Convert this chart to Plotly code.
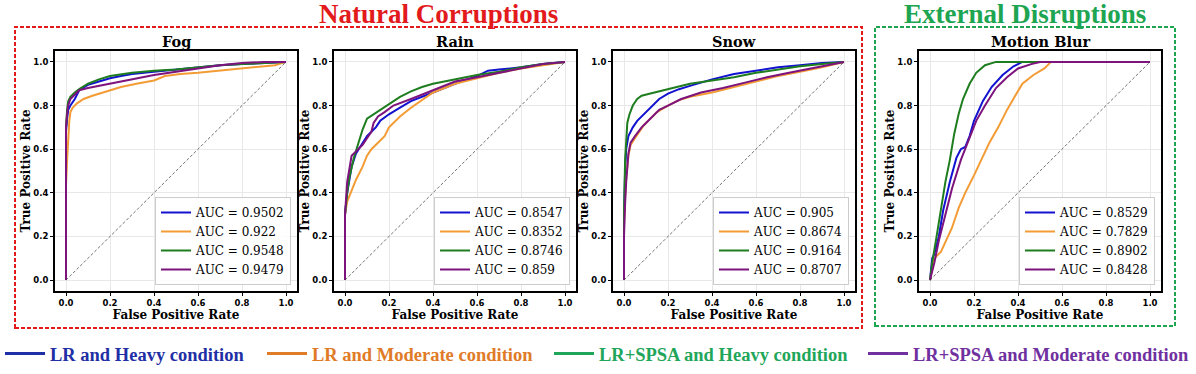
import plotly.graph_objects as go

W, H = 1196, 374

panels = ["Fog", "Rain", "Snow", "Motion Blur"]
series_names = [
    "LR and Heavy condition",
    "LR and Moderate condition",
    "LR+SPSA and Heavy condition",
    "LR+SPSA and Moderate condition",
]
curve_colors = ["#1212d0", "#f39c35", "#1e7d1e", "#7d137d"]
key_colors = ["#1f2fa5", "#e07b28", "#1fa65a", "#7030a0"]

# AUC labels per panel (series order: LR heavy, LR moderate, SPSA heavy, SPSA moderate)
auc_fog = ["0.9502", "0.922", "0.9548", "0.9479"]
auc_rain = ["0.8547", "0.8352", "0.8746", "0.859"]
auc_snow = ["0.905", "0.8674", "0.9164", "0.8707"]
auc_blur = ["0.8529", "0.7829", "0.8902", "0.8428"]

# ROC points
fog_fpr = [
    [0, 0, 0.005, 0.01, 0.02, 0.04, 0.06, 0.1, 0.15, 0.2, 0.25, 0.3, 0.4, 0.5, 0.6, 0.7, 0.8, 0.9, 1.0],
    [0, 0, 0.005, 0.01, 0.015, 0.02, 0.03, 0.05, 0.08, 0.12, 0.18, 0.25, 0.32, 0.4, 0.45, 0.52, 0.6, 0.7, 0.8, 0.9, 0.95, 1.0],
    [0, 0, 0.005, 0.01, 0.02, 0.04, 0.06, 0.1, 0.15, 0.2, 0.3, 0.4, 0.5, 0.6, 0.7, 0.8, 0.9, 1.0],
    [0, 0, 0.005, 0.01, 0.02, 0.04, 0.06, 0.1, 0.15, 0.2, 0.25, 0.3, 0.4, 0.5, 0.6, 0.7, 0.8, 0.9, 1.0],
]
fog_tpr = [
    [0, 0.68, 0.74, 0.78, 0.8, 0.83, 0.87, 0.895, 0.91, 0.925, 0.935, 0.945, 0.955, 0.965, 0.975, 0.985, 0.99, 0.995, 1.0],
    [0, 0.43, 0.55, 0.65, 0.73, 0.77, 0.79, 0.81, 0.83, 0.845, 0.865, 0.885, 0.9, 0.915, 0.935, 0.945, 0.95, 0.96, 0.97, 0.98, 0.985, 1.0],
    [0, 0.7, 0.78, 0.82, 0.84, 0.86, 0.875, 0.9, 0.92, 0.935, 0.95, 0.96, 0.965, 0.975, 0.985, 0.99, 0.995, 1.0],
    [0, 0.7, 0.76, 0.8, 0.83, 0.85, 0.87, 0.88, 0.89, 0.9, 0.91, 0.92, 0.94, 0.955, 0.97, 0.985, 0.995, 1.0, 1.0],
]

rain_fpr = [
    [0, 0, 0.01, 0.02, 0.03, 0.05, 0.08, 0.1, 0.12, 0.14, 0.16, 0.2, 0.25, 0.3, 0.4, 0.5, 0.6, 0.65, 0.7, 0.8, 0.9, 1.0],
    [0, 0, 0.01, 0.03, 0.05, 0.08, 0.1, 0.12, 0.15, 0.18, 0.2, 0.25, 0.3, 0.4, 0.5, 0.6, 0.7, 0.8, 0.9, 1.0],
    [0, 0, 0.01, 0.02, 0.04, 0.06, 0.08, 0.1, 0.13, 0.16, 0.2, 0.25, 0.3, 0.35, 0.4, 0.5, 0.6, 0.7, 0.8, 0.9, 1.0],
    [0, 0, 0.01, 0.02, 0.03, 0.05, 0.08, 0.1, 0.12, 0.13, 0.15, 0.18, 0.22, 0.3, 0.4, 0.5, 0.6, 0.7, 0.8, 0.9, 1.0],
]
rain_tpr = [
    [0, 0.3, 0.4, 0.46, 0.52, 0.58, 0.63, 0.66, 0.68, 0.7, 0.73, 0.76, 0.79, 0.82, 0.86, 0.9, 0.935, 0.96, 0.965, 0.975, 0.99, 1.0],
    [0, 0.3, 0.36, 0.41, 0.46, 0.52, 0.57, 0.6, 0.63, 0.66, 0.7, 0.75, 0.79, 0.86, 0.9, 0.925, 0.95, 0.97, 0.985, 1.0],
    [0, 0.3, 0.4, 0.47, 0.56, 0.63, 0.69, 0.74, 0.76, 0.78, 0.81, 0.84, 0.865, 0.885, 0.9, 0.92, 0.94, 0.955, 0.975, 0.99, 1.0],
    [0, 0.3, 0.45, 0.52, 0.57, 0.59, 0.62, 0.65, 0.68, 0.72, 0.75, 0.77, 0.8, 0.83, 0.87, 0.91, 0.93, 0.95, 0.97, 0.99, 1.0],
]

snow_fpr = [
    [0, 0, 0.005, 0.01, 0.02, 0.04, 0.06, 0.08, 0.1, 0.13, 0.16, 0.2, 0.25, 0.3, 0.4, 0.5, 0.6, 0.7, 0.8, 0.9, 1.0],
    [0, 0, 0.005, 0.01, 0.02, 0.03, 0.05, 0.07, 0.09, 0.12, 0.15, 0.2, 0.25, 0.3, 0.4, 0.5, 0.6, 0.7, 0.8, 0.9, 1.0],
    [0, 0, 0.005, 0.01, 0.015, 0.025, 0.04, 0.06, 0.08, 0.12, 0.18, 0.22, 0.3, 0.4, 0.5, 0.6, 0.7, 0.8, 0.9, 1.0],
    [0, 0, 0.005, 0.01, 0.02, 0.03, 0.05, 0.08, 0.1, 0.13, 0.16, 0.2, 0.26, 0.35, 0.45, 0.55, 0.65, 0.75, 0.85, 0.95, 1.0],
]
snow_tpr = [
    [0, 0.3, 0.5, 0.6, 0.66, 0.7, 0.73, 0.75, 0.77, 0.8, 0.83, 0.855, 0.875, 0.89, 0.92, 0.945, 0.96, 0.975, 0.985, 0.995, 1.0],
    [0, 0.25, 0.38, 0.47, 0.57, 0.62, 0.65, 0.68, 0.71, 0.74, 0.77, 0.8, 0.825, 0.84, 0.86, 0.885, 0.91, 0.935, 0.955, 0.975, 1.0],
    [0, 0.3, 0.55, 0.66, 0.72, 0.76, 0.8, 0.83, 0.845, 0.855, 0.87, 0.88, 0.9, 0.915, 0.93, 0.95, 0.965, 0.98, 0.99, 1.0],
    [0, 0.2, 0.35, 0.45, 0.58, 0.63, 0.66, 0.7, 0.72, 0.75, 0.78, 0.8, 0.83, 0.86, 0.88, 0.905, 0.93, 0.95, 0.97, 0.99, 1.0],
]

blur_fpr = [
    [0, 0.01, 0.02, 0.04, 0.06, 0.09, 0.12, 0.14, 0.16, 0.18, 0.2, 0.24, 0.28, 0.33, 0.38, 0.42, 1.0],
    [0, 0.01, 0.02, 0.05, 0.08, 0.1, 0.13, 0.16, 0.2, 0.24, 0.27, 0.31, 0.35, 0.39, 0.42, 0.47, 0.52, 0.55, 1.0],
    [0, 0.01, 0.03, 0.05, 0.07, 0.09, 0.11, 0.13, 0.15, 0.18, 0.21, 0.25, 0.3, 1.0],
    [0, 0.02, 0.04, 0.07, 0.1, 0.14, 0.18, 0.21, 0.25, 0.3, 0.35, 0.4, 0.46, 0.5, 1.0],
]
blur_tpr = [
    [0, 0.1, 0.12, 0.2, 0.32, 0.45, 0.56, 0.6, 0.61, 0.66, 0.73, 0.82, 0.885, 0.94, 0.98, 1.0, 1.0],
    [0, 0.06, 0.1, 0.13, 0.2, 0.24, 0.33, 0.4, 0.48, 0.57, 0.63, 0.7, 0.78, 0.85, 0.9, 0.94, 0.97, 1.0, 1.0],
    [0, 0.08, 0.2, 0.33, 0.45, 0.55, 0.67, 0.76, 0.83, 0.9, 0.95, 0.985, 1.0, 1.0],
    [0, 0.08, 0.18, 0.3, 0.42, 0.55, 0.65, 0.73, 0.8, 0.88, 0.93, 0.97, 0.99, 1.0, 1.0],
]

chance = [0, 1]
ticks = [0, 0.2, 0.4, 0.6, 0.8, 1.0]

panel_data = [
    (fog_fpr, fog_tpr, auc_fog),
    (rain_fpr, rain_tpr, auc_rain),
    (snow_fpr, snow_tpr, auc_snow),
    (blur_fpr, blur_tpr, auc_blur),
]

# axes boxes in pixels (left, right), shared top/bottom
axes_px = [(55, 297), (334, 576), (613, 855), (919, 1161)]
top_px, bottom_px = 51, 291
# left edge (px) of each key in the bottom legend row
key_x_px = [0, 262, 549, 863]


def px_x(p):
    return p / W


def px_y(p):
    return 1 - p / H


serif = "DejaVu Serif"
fig = go.Figure()
layout = {}
annotations = []

for i, (name, (fpr, tpr, auc)) in enumerate(zip(panels, panel_data)):
    n = "" if i == 0 else str(i + 1)
    xa, ya = "x" + n, "y" + n
    leg = "legend" + n
    for k in range(4):
        fig.add_trace(
            go.Scatter(
                x=fpr[k], y=tpr[k], mode="lines",
                line=dict(color=curve_colors[k], width=2),
                name="AUC = " + auc[k],
                xaxis=xa, yaxis=ya, legend=leg,
            )
        )
    fig.add_trace(
        go.Scatter(
            x=chance, y=chance, mode="lines",
            line=dict(color="#333333", width=0.7, dash="3px,2px"),
            showlegend=False, xaxis=xa, yaxis=ya, hoverinfo="skip",
        )
    )
    l, r = axes_px[i]
    axis_common = dict(
        range=[-0.05, 1.05], tickvals=ticks, tickformat=".1f",
        showgrid=True, gridcolor="#e8e8e8", gridwidth=1, zeroline=False,
        showline=True, linecolor="black", linewidth=2, mirror=True,
        ticks="outside", ticklen=3, tickcolor="black",
        tickfont=dict(family="DejaVu Sans", size=8.5, color="black", weight="bold"),
    )
    layout["xaxis" + n] = dict(
        axis_common, domain=[px_x(l), px_x(r)], anchor=ya,
        title=dict(text="False Positive Rate", standoff=0,
                   font=dict(family=serif, size=12, color="black", weight="bold")),
    )
    layout["yaxis" + n] = dict(
        axis_common, domain=[px_y(bottom_px), px_y(top_px)], anchor=xa,
        title=dict(text="True Positive Rate", standoff=0,
                   font=dict(family=serif, size=12, color="black", weight="bold")),
    )
    layout[leg] = dict(
        x=px_x(r - 6), y=px_y(bottom_px - 6), xanchor="right", yanchor="bottom",
        bgcolor="rgba(255,255,255,0.85)", bordercolor="#cccccc", borderwidth=1,
        font=dict(family=serif, size=12, color="black"),
        tracegroupgap=0,
    )
    annotations.append(dict(
        text=name, xref="paper", yref="paper",
        x=(px_x(l) + px_x(r)) / 2, y=px_y(top_px), xanchor="center", yanchor="bottom",
        yshift=-1, showarrow=False,
        font=dict(family=serif, size=14.5, color="black", weight="bold"),
    ))

# bottom row of keys, one legend per key so each sits where the picture has it
for k in range(4):
    leg = "legend%d" % (k + 5)
    fig.add_trace(
        go.Scatter(
            x=[None], y=[None], mode="lines",
            line=dict(color=key_colors[k], width=3),
            name='<span style="color:%s">%s</span>' % (key_colors[k], series_names[k]),
            legend=leg,
        )
    )
    layout[leg] = dict(
        orientation="h", x=px_x(key_x_px[k]), xanchor="left",
        y=px_y(354), yanchor="middle", itemwidth=40,
        font=dict(family="Liberation Serif", size=18.5, weight="bold"),
        bgcolor="rgba(0,0,0,0)",
    )

red, green = "#e31a1c", "#1ea552"
annotations += [
    dict(text="Natural Corruptions", xref="paper", yref="paper",
         x=px_x(438), y=px_y(14), xanchor="center", yanchor="middle", showarrow=False,
         font=dict(family="Liberation Serif", size=27, color=red, weight="bold")),
    dict(text="External Disruptions", xref="paper", yref="paper",
         x=px_x(1025), y=px_y(14), xanchor="center", yanchor="middle", showarrow=False,
         font=dict(family="Liberation Serif", size=27, color=green, weight="bold")),
]

shapes = [
    dict(type="rect", xref="paper", yref="paper",
         x0=px_x(15), x1=px_x(862), y0=px_y(328), y1=px_y(27),
         line=dict(color=red, width=2, dash="4px,2px")),
    dict(type="rect", xref="paper", yref="paper",
         x0=px_x(875), x1=px_x(1175), y0=px_y(326), y1=px_y(27),
         line=dict(color=green, width=2, dash="4px,2px")),
]

fig.update_layout(
    width=W, height=H, margin=dict(l=0, r=0, t=0, b=0),
    plot_bgcolor="white", paper_bgcolor="white",
    annotations=annotations, shapes=shapes, **layout,
)

# drop the browser's default body margin so the figure sits at the page origin
fig.write_html(
    "out.html",
    config={"displayModeBar": False},
    post_script="document.body.style.margin = '0';",
)
